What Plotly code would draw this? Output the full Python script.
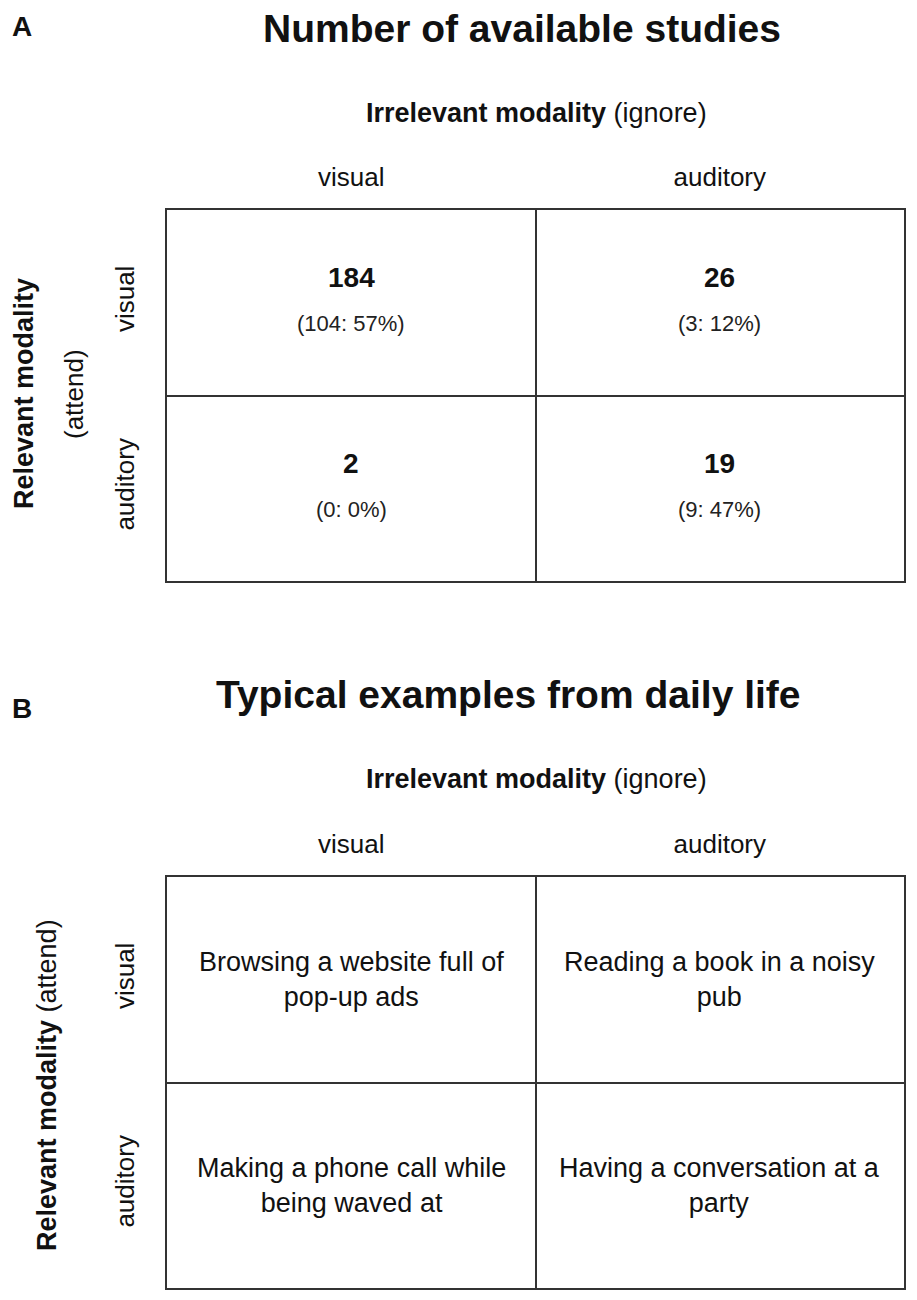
import plotly.graph_objects as go

# categories used for both rows (relevant) and columns (irrelevant)
modalities = ["visual", "auditory"]

# panel A: available studies, rows = relevant modality, cols = irrelevant modality
study_counts = [[184, 26], [2, 19]]
study_subset = [[104, 3], [0, 9]]
study_percent = [[57, 12], [0, 47]]

# panel B: typical everyday examples
examples = [
    ["Browsing a website full of<br>pop-up ads", "Reading a book in a noisy<br>pub"],
    ["Making a phone call while<br>being waved at", "Having a conversation at a<br>party"],
]

# page body keeps its default 8px margin, so work in page pixels minus 8
OFF = 8
W, H = 917 - OFF, 1300 - OFF
FONT = "Liberation Sans, Arial, sans-serif"
LINE = "#333333"
TXT = "#111111"


def py(v):
    # page pixel row -> paper y
    return 1 - (v - OFF) / H


def px(v):
    return (v - OFF) / W


def grid_axes(xdom, ydom):
    common = dict(
        showgrid=False, zeroline=True, zerolinecolor=LINE, zerolinewidth=2,
        showline=True, mirror=True, linecolor=LINE, linewidth=2,
        tickmode="array", tickvals=[-0.5, 0.5], ticktext=modalities, ticks="",
        tickfont=dict(family=FONT, size=26, color=TXT), fixedrange=True,
    )
    xa = dict(common, domain=xdom, range=[-1, 1], side="top", ticklabelstandoff=12)
    ya = dict(common, domain=ydom, range=[1, -1], tickangle=-90, ticklabelstandoff=21)
    return xa, ya


fig = go.Figure()

xa1, ya1 = grid_axes([px(167), px(904)], [py(581), py(210)])
xa2, ya2 = grid_axes([px(167), px(904)], [py(1288), py(877)])

annotations = []

# cell texts
for i, row in enumerate(modalities):
    for j, col in enumerate(modalities):
        cx, cy = j - 0.5, i - 0.5
        # panel A
        annotations.append(dict(
            x=cx, y=cy, xref="x", yref="y", yshift=25, showarrow=False,
            text=f"<b>{study_counts[i][j]}</b>",
            font=dict(family=FONT, size=28, color=TXT),
        ))
        annotations.append(dict(
            x=cx, y=cy, xref="x", yref="y", yshift=-21, showarrow=False,
            text=f"({study_subset[i][j]}: {study_percent[i][j]}%)",
            font=dict(family=FONT, size=22, color="#222222"),
        ))
        # panel B
        annotations.append(dict(
            x=cx, y=cy, xref="x2", yref="y2", showarrow=False,
            text=examples[i][j],
            font=dict(family=FONT, size=27, color=TXT),
        ))

# invisible traces so the axes get drawn
fig.add_trace(go.Scatter(x=[-0.5, 0.5], y=[-0.5, 0.5], mode="markers",
                         marker=dict(opacity=0), hoverinfo="skip",
                         xaxis="x", yaxis="y"))
fig.add_trace(go.Scatter(x=[-0.5, 0.5], y=[-0.5, 0.5], mode="markers",
                         marker=dict(opacity=0), hoverinfo="skip",
                         xaxis="x2", yaxis="y2"))


def label(text, x, y, size, angle=0, bold=False):
    if bold:
        text = f"<b>{text}</b>"
    annotations.append(dict(
        x=px(x), y=py(y), xref="paper", yref="paper", showarrow=False,
        text=text, textangle=angle, xanchor="center", yanchor="middle",
        font=dict(family=FONT, size=size, color=TXT),
    ))


# panel A headers
label("A", 22, 26, 28, bold=True)
label("Number of available studies", 522, 29, 39, bold=True)
label("<b>Irrelevant modality</b> (ignore)", 536, 113, 27)
label("Relevant modality", 24, 394, 27, angle=-90, bold=True)
label("(attend)", 74, 394, 26, angle=-90)

# panel B headers
label("B", 22, 708, 28, bold=True)
label("Typical examples from daily life", 508, 694, 39, bold=True)
label("<b>Irrelevant modality</b> (ignore)", 536, 779, 27)
label("<b>Relevant modality</b> (attend)", 47, 1085, 27, angle=-90)

fig.update_layout(
    width=W, height=H,
    margin=dict(l=0, r=0, t=0, b=0),
    paper_bgcolor="white", plot_bgcolor="white",
    showlegend=False,
    xaxis=xa1, yaxis=ya1, xaxis2=dict(xa2, anchor="y2"), yaxis2=dict(ya2, anchor="x2"),
    annotations=annotations,
    font=dict(family=FONT, color=TXT),
)

fig.write_html("out.html")
